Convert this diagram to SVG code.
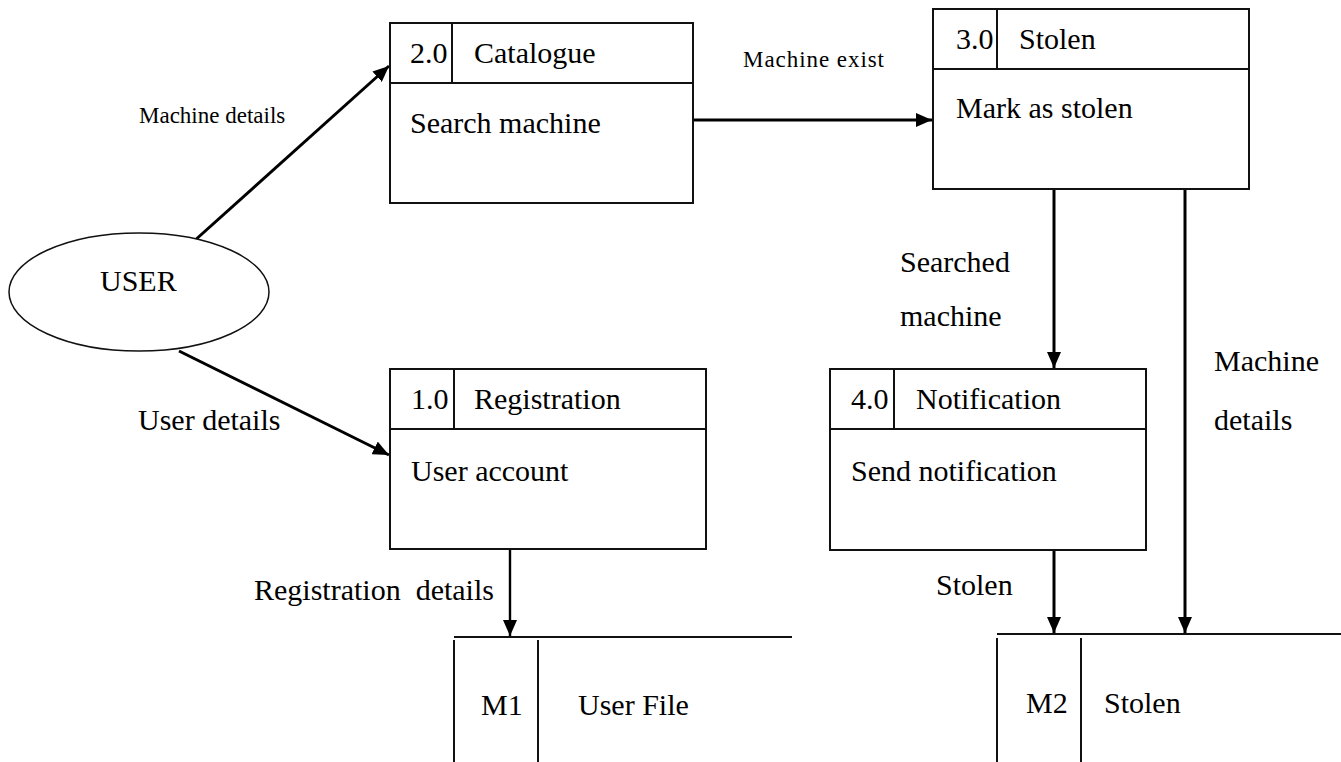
<svg xmlns="http://www.w3.org/2000/svg" width="1341" height="762" viewBox="0 0 1341 762">
  <style>
    .box { fill: #fff; stroke: #111; stroke-width: 2; }
    .div { fill: none; stroke: #111; stroke-width: 2; }
    .flow { fill: none; stroke: #000; stroke-width: 3; }
    .thin { fill: none; stroke: #000; stroke-width: 2.4; }
    text { font-family: "Liberation Serif", "Times New Roman", serif; fill: #000; }
    .t { font-size: 30px; }
    .s { font-size: 23px; }
  </style>
  <defs>
    <marker id="arrow" markerUnits="userSpaceOnUse" markerWidth="16" markerHeight="14" refX="16" refY="7" orient="auto">
      <path d="M0,0 L16,7 L0,14 z" fill="#000"/>
    </marker>
  </defs>
  <rect width="1341" height="762" fill="#fff"/>

  <!-- data flows -->
  <g id="connectors">
    <line class="flow" x1="193" y1="242" x2="389" y2="66" marker-end="url(#arrow)"/>
    <line class="flow" x1="179" y1="351" x2="389" y2="455" marker-end="url(#arrow)"/>
    <line class="flow" x1="693" y1="120" x2="932" y2="120" marker-end="url(#arrow)"/>
    <line class="flow" x1="1054" y1="189" x2="1054" y2="368" marker-end="url(#arrow)"/>
    <line class="flow" x1="1185" y1="189" x2="1185" y2="633" marker-end="url(#arrow)"/>
    <line class="flow" x1="1054" y1="550" x2="1054" y2="633" marker-end="url(#arrow)"/>
    <line class="thin" x1="510" y1="549" x2="510" y2="636" marker-end="url(#arrow)"/>
    <text class="s" x="139" y="123">Machine details</text>
    <text class="s" x="743" y="67" textLength="141" lengthAdjust="spacing">Machine exist</text>
    <text class="t" x="138" y="430">User details</text>
    <text class="t" x="254" y="600" xml:space="preserve">Registration  details</text>
    <text class="t" x="900" y="272">Searched</text>
    <text class="t" x="900" y="326">machine</text>
    <text class="t" x="1214" y="371">Machine</text>
    <text class="t" x="1214" y="430">details</text>
    <text class="t" x="936" y="595">Stolen</text>
  </g>

  <!-- external entity -->
  <g id="user">
    <ellipse cx="139" cy="292" rx="130" ry="59" fill="#fff" stroke="#111" stroke-width="1.5"/>
    <text class="t" x="100" y="291">USER</text>
  </g>

  <!-- processes -->
  <g id="p2-catalogue">
    <rect class="box" x="390" y="23" width="303" height="180"/>
    <line class="div" x1="390" y1="83" x2="693" y2="83"/>
    <line class="div" x1="452" y1="23" x2="452" y2="83"/>
    <text class="t" x="410" y="63">2.0</text>
    <text class="t" x="474" y="63">Catalogue</text>
    <text class="t" x="410" y="133">Search machine</text>
  </g>

  <g id="p3-stolen">
    <rect class="box" x="933" y="9" width="316" height="180"/>
    <line class="div" x1="933" y1="69" x2="1249" y2="69"/>
    <line class="div" x1="997" y1="9" x2="997" y2="69"/>
    <text class="t" x="956" y="49">3.0</text>
    <text class="t" x="1019" y="49">Stolen</text>
    <text class="t" x="956" y="118">Mark as stolen</text>
  </g>

  <g id="p1-registration">
    <rect class="box" x="390" y="369" width="316" height="180"/>
    <line class="div" x1="390" y1="429" x2="706" y2="429"/>
    <line class="div" x1="454" y1="369" x2="454" y2="429"/>
    <text class="t" x="411" y="409">1.0</text>
    <text class="t" x="474" y="409">Registration</text>
    <text class="t" x="411" y="481">User account</text>
  </g>

  <g id="p4-notification">
    <rect class="box" x="830" y="369" width="316" height="181"/>
    <line class="div" x1="830" y1="429" x2="1146" y2="429"/>
    <line class="div" x1="894" y1="369" x2="894" y2="429"/>
    <text class="t" x="851" y="409">4.0</text>
    <text class="t" x="916" y="409">Notification</text>
    <text class="t" x="851" y="481">Send notification</text>
  </g>

  <!-- data stores -->
  <g id="m1-user-file">
    <line class="div" x1="454" y1="637" x2="792" y2="637"/>
    <line class="div" x1="454" y1="640" x2="454" y2="762"/>
    <line class="div" x1="538" y1="640" x2="538" y2="762"/>
    <text class="t" x="481" y="715">M1</text>
    <text class="t" x="578" y="715">User File</text>
  </g>

  <g id="m2-stolen">
    <line class="div" x1="997" y1="634" x2="1341" y2="634"/>
    <line class="div" x1="997" y1="638" x2="997" y2="762"/>
    <line class="div" x1="1081" y1="638" x2="1081" y2="762"/>
    <text class="t" x="1026" y="713">M2</text>
    <text class="t" x="1104" y="713">Stolen</text>
  </g>
</svg>
